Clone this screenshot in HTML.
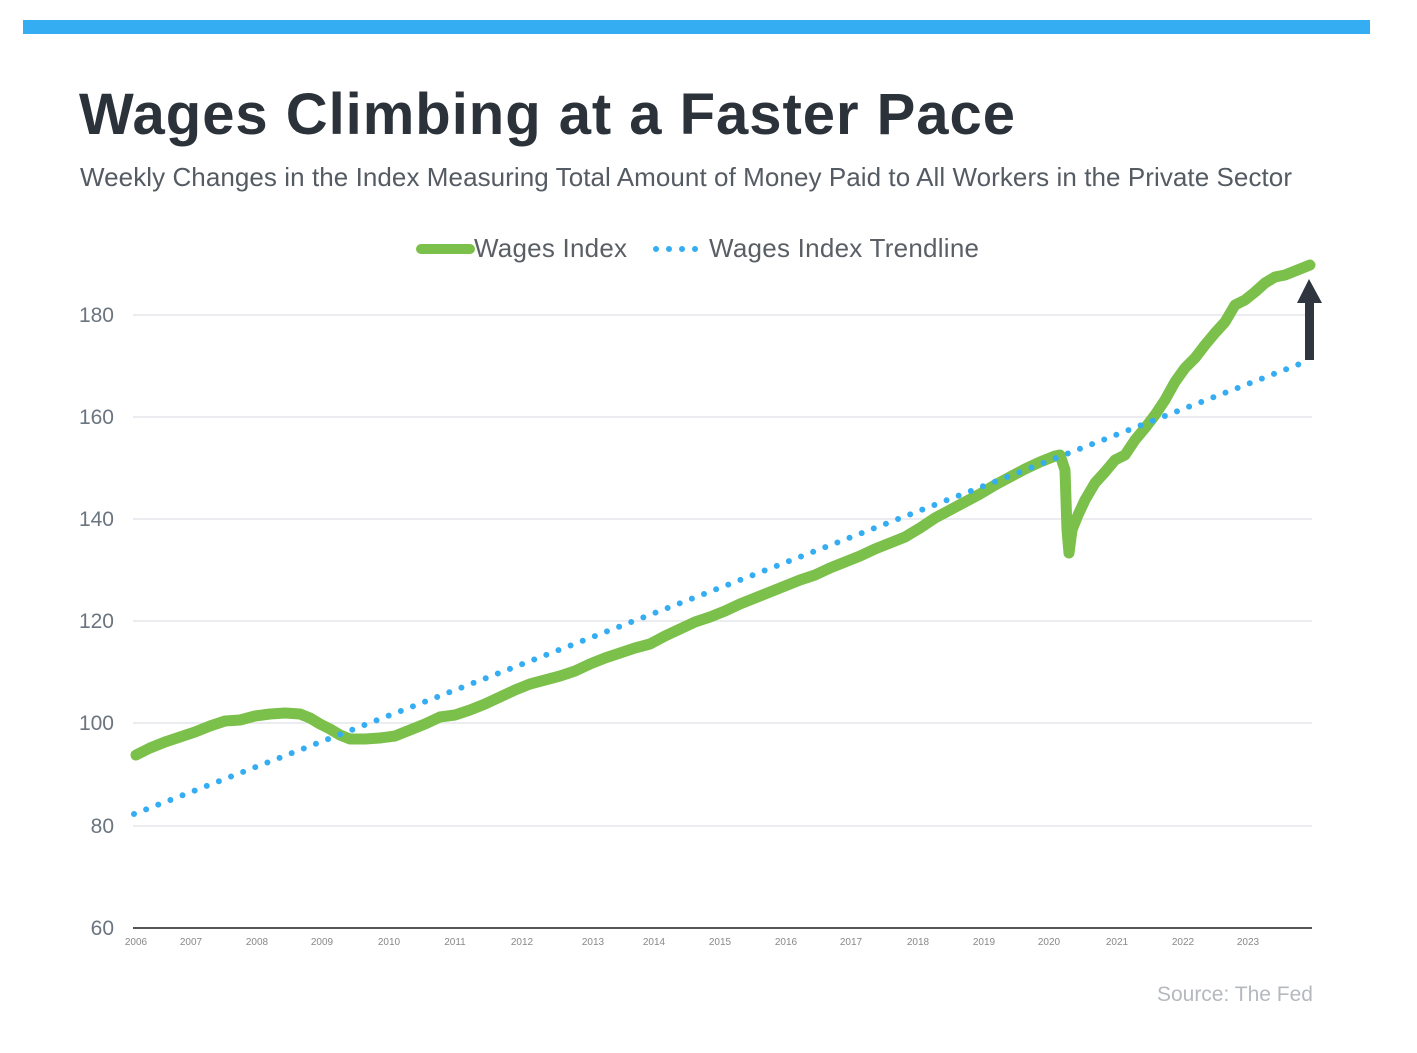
<!DOCTYPE html>
<html><head><style>
body{margin:0;background:#fff;width:1417px;height:1048px;overflow:hidden;font-family:"Liberation Sans",sans-serif}
</style></head><body>
<svg width="1417" height="1048" xmlns="http://www.w3.org/2000/svg" font-family="Liberation Sans, sans-serif">
<rect x="23" y="20" width="1347" height="14" fill="#35adf2"/>
<text x="79" y="134" font-size="58" font-weight="bold" fill="#2c323a" textLength="936">Wages Climbing at a Faster Pace</text>
<text x="80" y="186" font-size="26" fill="#555b63" textLength="1212">Weekly Changes in the Index Measuring Total Amount of Money Paid to All Workers in the Private Sector</text>
<line x1="421" y1="249" x2="470" y2="249" stroke="#7bc04a" stroke-width="10" stroke-linecap="round"/>
<text x="474" y="257" font-size="26" fill="#5a5f66" textLength="153">Wages Index</text>
<line x1="656" y1="249" x2="700" y2="249" stroke="#35adf2" stroke-width="6" stroke-linecap="round" stroke-dasharray="0 13"/>
<text x="709" y="257" font-size="26" fill="#5a5f66" textLength="270">Wages Index Trendline</text>
<g stroke="#dde1e6" stroke-width="1.3">
<line x1="133" y1="315" x2="1312" y2="315"/><line x1="133" y1="417" x2="1312" y2="417"/>
<line x1="133" y1="519" x2="1312" y2="519"/><line x1="133" y1="621" x2="1312" y2="621"/>
<line x1="133" y1="723" x2="1312" y2="723"/><line x1="133" y1="826" x2="1312" y2="826"/>
</g>
<line x1="133" y1="928" x2="1312" y2="928" stroke="#555" stroke-width="2"/>
<g font-size="21" fill="#6b7580" text-anchor="end">
<text x="114" y="322">180</text><text x="114" y="424">160</text><text x="114" y="526">140</text>
<text x="114" y="628">120</text><text x="114" y="730">100</text><text x="114" y="833">80</text><text x="114" y="935">60</text>
</g>
<g font-size="10" fill="#888" text-anchor="middle">
<text x="136" y="945">2006</text><text x="191" y="945">2007</text><text x="257" y="945">2008</text><text x="322" y="945">2009</text><text x="389" y="945">2010</text><text x="455" y="945">2011</text><text x="522" y="945">2012</text><text x="593" y="945">2013</text><text x="654" y="945">2014</text><text x="720" y="945">2015</text><text x="786" y="945">2016</text><text x="851" y="945">2017</text><text x="918" y="945">2018</text><text x="984" y="945">2019</text><text x="1049" y="945">2020</text><text x="1117" y="945">2021</text><text x="1183" y="945">2022</text><text x="1248" y="945">2023</text>
</g>
<polyline fill="none" stroke="#7bc04a" stroke-width="11" stroke-linejoin="round" stroke-linecap="round" points="136,755 150,748 165,742 180,737 195,732 210,726 225,721 240,720 255,716 270,714 285,713 300,714 310,718 320,724 330,729 340,735 350,739 365,739 380,738 395,736 410,730 425,724 440,717 455,715 470,710 485,704 500,697 515,690 530,684 545,680 560,676 575,671 590,664 605,658 620,653 635,648 650,644 665,636 680,629 695,622 710,617 725,611 740,604 755,598 770,592 785,586 800,580 815,575 830,568 845,562 860,556 875,549 890,543 905,537 920,528 935,518 950,510 965,502 980,494 995,485 1010,477 1025,469 1040,462 1055,456 1060,455 1065,470 1067,530 1069,553 1072,530 1078,515 1085,500 1095,483 1105,472 1115,460 1125,455 1135,440 1145,428 1155,415 1165,400 1175,382 1185,368 1195,358 1205,345 1215,333 1225,322 1235,305 1245,300 1255,292 1265,283 1275,277 1285,275 1295,271 1310,265"/>
<line x1="134" y1="814" x2="1310" y2="360" stroke="#35adf2" stroke-width="6" stroke-linecap="round" stroke-dasharray="0 13"/>
<rect x="1305" y="300" width="9" height="60" fill="#2f3640"/>
<polygon points="1309,279 1297,303 1322,303" fill="#2f3640"/>
<text x="1313" y="1001" font-size="21" fill="#b5b9be" text-anchor="end">Source: The Fed</text>
</svg>
</body></html>
